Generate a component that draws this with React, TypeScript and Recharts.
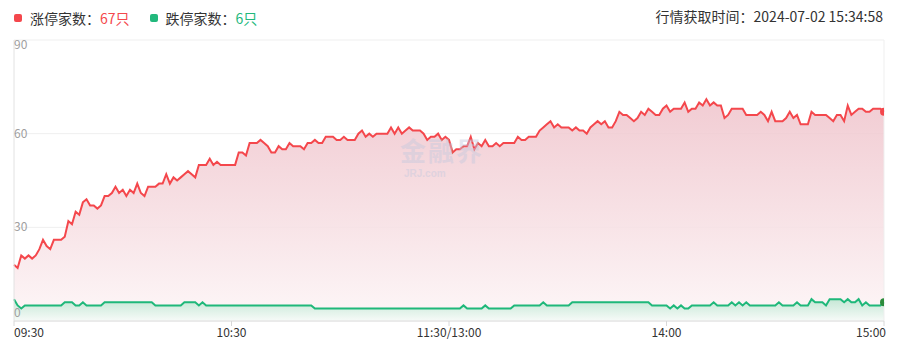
import {
  ComposedChart,
  Area,
  XAxis,
  YAxis,
  CartesianGrid,
  ReferenceLine,
} from "recharts";

// minute index 0..240 (09:30-11:30, 13:00-15:00)
const timeTicks = [0, 60, 120, 180, 240];
const timeLabels = ["09:30", "10:30", "11:30/13:00", "14:00", "15:00"];
const countTicks = [0, 30, 60, 90];

// 涨停家数 per minute
const upCounts = [
  18, 17, 21, 20, 21, 20, 21, 23, 26, 24,
  23, 26, 26, 26, 27, 32, 31, 35, 34, 38,
  39, 37, 37, 36, 37, 40, 40, 41, 43, 41,
  42, 40, 42, 41, 44, 41, 40, 43, 43, 43,
  44, 44, 47, 44, 46, 45, 46, 47, 48, 47,
  46, 50, 50, 50, 52, 50, 51, 50, 50, 50,
  50, 50, 54, 54, 53, 57, 57, 57, 58, 57,
  56, 54, 54, 56, 55, 55, 57, 56, 56, 56,
  55, 57, 57, 58, 57, 57, 59, 59, 59, 58,
  58, 59, 58, 58, 58, 60, 61, 59, 60, 59,
  60, 60, 60, 60, 62, 60, 62, 60, 61, 62,
  61, 61, 61, 60, 58, 59, 59, 60, 58, 59,
  58, 54, 55, 55, 56, 56, 59, 55, 57, 56,
  58, 56, 56, 57, 56, 57, 57, 57, 57, 59,
  58, 58, 59, 59, 59, 61, 62, 63, 64, 62,
  63, 62, 62, 62, 61, 62, 61, 61, 60, 62,
  63, 64, 63, 64, 62, 62, 64, 67, 66, 66,
  65, 64, 65, 67, 66, 68, 67, 66, 66, 68,
  69, 67, 68, 68, 68, 70, 67, 68, 68, 70,
  69, 71, 69, 70, 69, 69, 65, 66, 68, 68,
  68, 68, 66, 66, 66, 66, 67, 66, 64, 67,
  64, 64, 64, 65, 67, 65, 66, 63, 63, 63,
  67, 66, 66, 66, 66, 65, 64, 66, 66, 64,
  69, 66, 67, 68, 68, 67, 67, 68, 68, 68,
  67,
];

// 跌停家数 per minute
const downCounts = [
  7, 5, 4, 5, 5, 5, 5, 5, 5, 5,
  5, 5, 5, 5, 6, 6, 6, 5, 5, 6,
  5, 5, 5, 5, 5, 6, 6, 6, 6, 6,
  6, 6, 6, 6, 6, 6, 6, 6, 6, 5,
  5, 5, 5, 5, 5, 5, 5, 6, 6, 6,
  6, 5, 6, 5, 5, 5, 5, 5, 5, 5,
  5, 5, 5, 5, 5, 5, 5, 5, 5, 5,
  5, 5, 5, 5, 5, 5, 5, 5, 5, 5,
  5, 5, 5, 4, 4, 4, 4, 4, 4, 4,
  4, 4, 4, 4, 4, 4, 4, 4, 4, 4,
  4, 4, 4, 4, 4, 4, 4, 4, 4, 4,
  4, 4, 4, 4, 4, 4, 4, 4, 4, 4,
  4, 4, 4, 4, 5, 4, 4, 4, 4, 4,
  5, 4, 4, 4, 4, 4, 4, 4, 5, 5,
  5, 5, 5, 5, 5, 5, 6, 5, 5, 5,
  5, 5, 5, 5, 6, 6, 6, 6, 6, 6,
  6, 6, 6, 6, 6, 6, 6, 6, 6, 6,
  6, 6, 6, 6, 6, 6, 5, 5, 5, 5,
  5, 4, 5, 4, 5, 4, 4, 5, 5, 5,
  5, 5, 5, 6, 5, 5, 5, 5, 6, 5,
  6, 5, 6, 5, 5, 5, 5, 5, 5, 5,
  5, 6, 5, 5, 5, 5, 6, 5, 5, 5,
  7, 6, 6, 6, 5, 7, 7, 7, 7, 6,
  7, 6, 6, 7, 5, 6, 5, 5, 5, 5,
  6,
];

const fetchTime = "2024-07-02 15:34:58";

const RED = "#f4474c";
const GREEN = "#1fb87a";
const FONT = '"Noto Sans CJK SC", "Noto Sans", sans-serif';

const W = 903;
const H = 353;
const PLOT_LEFT = 14;

const chartData = upCounts.map((up, i) => ({ t: i, up, down: downCounts[i] }));
const lastIndex = chartData.length - 1;

function TimeTick({ x, y, payload }: any) {
  const v = payload.value;
  const idx = timeTicks.indexOf(v);
  const anchor = v === timeTicks[0] ? "start" : v === timeTicks[timeTicks.length - 1] ? "end" : "middle";
  return (
    <text x={anchor === "end" ? x + 2 : x} y={y} dy="0.71em" textAnchor={anchor} fill="#333" fontSize={12} fontFamily={FONT}>
      {timeLabels[idx]}
    </text>
  );
}

function renderCountTick(props: any) {
  const { y, payload } = props;
  const v = payload.value;
  // top label sits under its line, bottom label above it
  const shift = v === countTicks[countTicks.length - 1] ? 9 : v === 0 ? -4 : 4;
  return (
    <text key={`ct-${v}`} x={PLOT_LEFT} y={y + shift} textAnchor="start" fill="#a0a0a0" fontSize={12} fontFamily={FONT}>
      {v}
    </text>
  );
}

// half dot on the last point, cut at the plot edge
const endDot = (color: string) => (props: any) => {
  const { cx, cy, index } = props;
  if (index !== lastIndex) return <g key={`d-${index}`} />;
  const r = 4;
  return (
    <path
      key={`d-${index}`}
      d={`M${cx},${cy - r} A${r},${r} 0 0,0 ${cx},${cy + r} Z`}
      fill={color}
    />
  );
};

function Legend() {
  const item = (color: string, label: string, value: number) => (
    <span style={{ display: "inline-flex", alignItems: "center", marginRight: 20 }}>
      <span style={{ width: 8, height: 8, borderRadius: 2, background: color, display: "inline-block", marginRight: 8 }} />
      <span style={{ color: "#333" }}>{label}：</span>
      <span style={{ color }}>{value}只</span>
    </span>
  );
  return (
    <div style={{ position: "absolute", left: PLOT_LEFT, top: 6, fontSize: 14, lineHeight: "20px", fontFamily: FONT, whiteSpace: "nowrap" }}>
      {item(RED, "涨停家数", upCounts[lastIndex])}
      {item("#22b87c", "跌停家数", downCounts[lastIndex])}
    </div>
  );
}

export default function App() {
  return (
    <div style={{ position: "absolute", left: 0, top: 0, width: W, height: H, background: "#fff", fontFamily: FONT }}>
      <Legend />
      <div style={{ position: "absolute", right: 20, top: 6, fontSize: 14, lineHeight: "20px", color: "#333", whiteSpace: "nowrap" }}>
        行情获取时间：{fetchTime}
      </div>

      <div style={{ position: "absolute", left: 0, top: 0 }}>
        <ComposedChart width={W} height={H} data={chartData} margin={{ top: 40, right: 19, bottom: 2, left: PLOT_LEFT - 1 }}>
          <defs>
            <linearGradient id="upFill" x1="0" y1="0" x2="0" y2="1">
              <stop offset="0%" stopColor="#efc3cb" stopOpacity={0.85} />
              <stop offset="100%" stopColor="#fdf6f7" stopOpacity={0.9} />
            </linearGradient>
            <linearGradient id="downFill" x1="0" y1="0" x2="0" y2="1">
              <stop offset="0%" stopColor="#bfe6d2" stopOpacity={0.9} />
              <stop offset="100%" stopColor="#f6fbf8" stopOpacity={0.9} />
            </linearGradient>
          </defs>
          <CartesianGrid vertical={false} stroke="#efefef" />
          <XAxis
            dataKey="t"
            type="number"
            domain={[0, 240]}
            ticks={timeTicks}
            interval={0}
            tick={<TimeTick />}
            tickSize={5}
            height={30}
            axisLine={{ stroke: "#e6e6e6", strokeWidth: 1.5 }}
            tickLine={{ stroke: "#d8d8d8" }}
          />
          <YAxis
            width={1}
            domain={[0, 90]}
            ticks={countTicks}
            interval={0}
            tick={renderCountTick}
            tickLine={false}
            axisLine={{ stroke: "#e2e2e2" }}
          />
          <ReferenceLine x={240} stroke="#efefef" />
          <Area
            type="linear"
            dataKey="up"
            stroke={RED}
            strokeWidth={2}
            fill="url(#upFill)"
            fillOpacity={1}
            dot={endDot(RED)}
            activeDot={false}
            isAnimationActive={false}
          />
          <Area
            type="linear"
            dataKey="down"
            stroke={GREEN}
            strokeWidth={2}
            fill="url(#downFill)"
            fillOpacity={1}
            dot={endDot("#2c8c3c")}
            activeDot={false}
            isAnimationActive={false}
          />
        </ComposedChart>
      </div>

      {/* watermark */}
      <div style={{ position: "absolute", left: 400, top: 137, color: "#c5c9de", opacity: 0.45, pointerEvents: "none", lineHeight: 1 }}>
        <div style={{ fontSize: 26, fontWeight: 700, letterSpacing: 2 }}>金融界</div>
        <div style={{ fontSize: 10, fontWeight: 700, marginLeft: 4, marginTop: 6, fontFamily: "Arial, sans-serif" }}>JRJ.com</div>
      </div>
    </div>
  );
}
